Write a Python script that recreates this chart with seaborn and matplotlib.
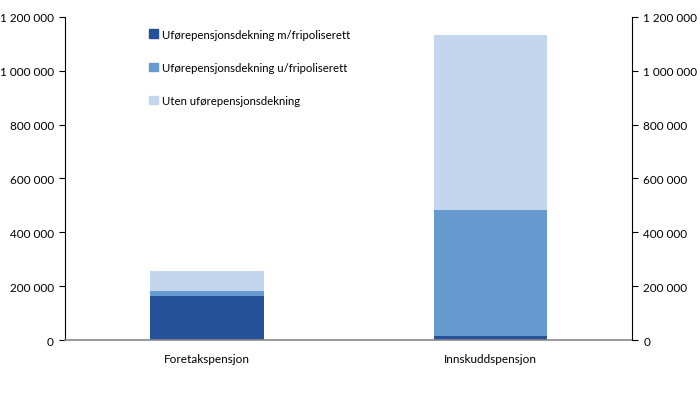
import matplotlib
matplotlib.use("Agg")
import matplotlib.pyplot as plt
import matplotlib.patches as mpatches
from matplotlib.ticker import FuncFormatter
import pandas as pd
import seaborn as sns

# data
categories = ["Foretakspensjon", "Innskuddspensjon"]
med_fripolise = [165000, 15000]
uten_fripolise = [18000, 467000]
uten_dekning = [72000, 651000]

series_labels = [
    "Uførepensjonsdekning m/fripoliserett",
    "Uførepensjonsdekning u/fripoliserett",
    "Uten uførepensjonsdekning",
]
colors = ["#25509a", "#6699cf", "#c4d6ee"]

df = pd.DataFrame({
    "kategori": categories,
    "m": med_fripolise,
    "u": uten_fripolise,
    "uten": uten_dekning,
})
df["lvl1"] = df["m"]
df["lvl2"] = df["m"] + df["u"]
df["lvl3"] = df["lvl2"] + df["uten"]

sns.set_style("white")
plt.rcParams["font.family"] = ["Lato", "DejaVu Sans"]
plt.rcParams["text.color"] = "black"
plt.rcParams["xtick.color"] = "black"
plt.rcParams["ytick.color"] = "black"

fig = plt.figure(figsize=(7, 4.14), dpi=100)
ax = fig.add_axes([0.093, 0.176, 0.81, 0.781])

# stacked bars drawn as overlapping cumulative totals
for col, c in zip(["lvl3", "lvl2", "lvl1"], colors[::-1]):
    sns.barplot(data=df, x="kategori", y=col, color=c, width=0.4,
                saturation=1, ax=ax, linewidth=0)

ax.set_xlim(-0.5, 1.5)
ax.set_ylim(0, 1200000)
ticks = list(range(0, 1200001, 200000))
fmt = FuncFormatter(lambda v, p: f"{int(v):,}".replace(",", " "))
ax.set_yticks(ticks)
ax.yaxis.set_major_formatter(fmt)
ax.set_xlabel("")
ax.set_ylabel("")

ax2 = ax.twinx()
ax2.set_ylim(ax.get_ylim())
ax2.set_yticks(ticks)
ax2.yaxis.set_major_formatter(fmt)

for a in (ax, ax2):
    a.spines["top"].set_visible(False)
    a.tick_params(axis="y", length=4, width=0.8, color="black",
                  labelsize=8.5, pad=4)
ax.spines["left"].set_color("black")
ax.spines["right"].set_visible(False)
ax2.spines["left"].set_visible(False)
ax2.spines["bottom"].set_visible(False)
ax2.spines["right"].set_color("black")
ax.spines["bottom"].set_color("#888888")
ax.spines["bottom"].set_linewidth(1.2)

ax.tick_params(axis="x", which="major", length=0, labelsize=8.5, pad=9)
ax.set_xticks([0.5], minor=True)
ax.tick_params(axis="x", which="minor", length=4, color="#888888",
               direction="out")

handles = [mpatches.Patch(color=c, label=l) for c, l in zip(colors, series_labels)]
ax.legend(handles=handles, loc="upper left", bbox_to_anchor=(0.13, 0.995),
          frameon=False, fontsize=8.2, labelspacing=1.95, handlelength=0.8,
          handleheight=0.8, handletextpad=0.3)

fig.savefig("out.png", dpi=100)
